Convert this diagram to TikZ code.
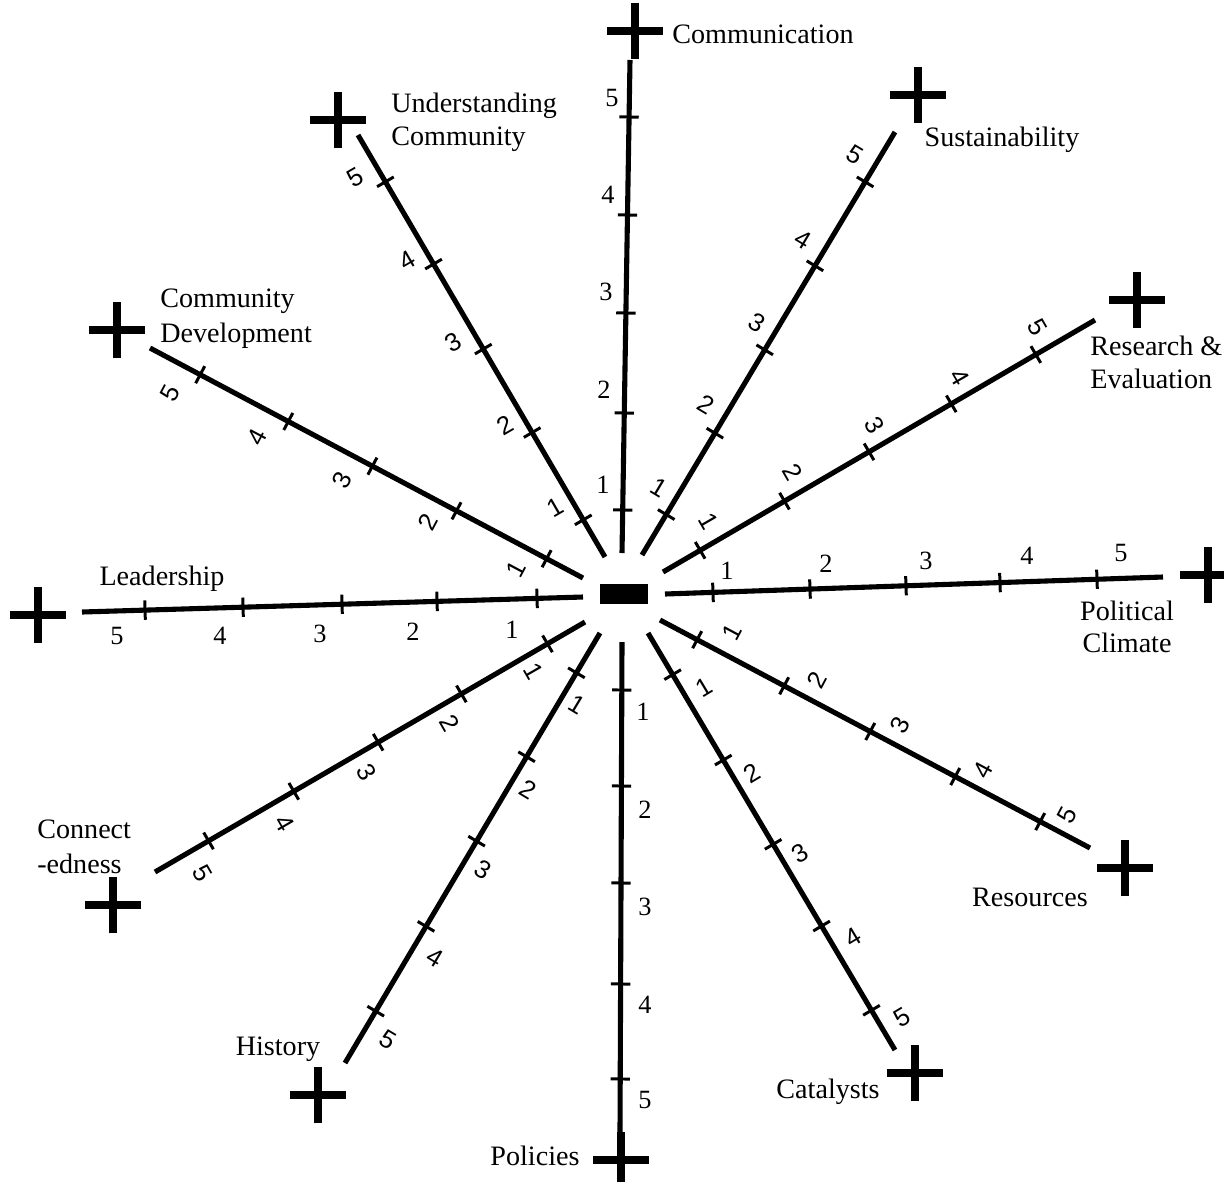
\documentclass[tikz,border=0pt]{standalone}
\usepackage{fontspec}
\setmainfont{Liberation Serif}
\newfontfamily\handfont{Liberation Sans}
\usetikzlibrary{calc,shapes.misc}
\newcommand\mkspoke[4]{%
  \coordinate (#1a) at (#2);
  \coordinate (#1b) at (#3);
  \draw[spoke] (#1a) -- (#1b);
  \foreach \tx/\ty [count=\k] in {#4} {
    \coordinate (#1t\k) at ($(#1a)!(\tx,\ty)!(#1b)$);
    \draw[tickmark] ($(#1t\k)!5.5pt!90:(#1b)$) -- ($(#1t\k)!5.5pt!-90:(#1b)$);
  }}
\newcommand\mkdigits[4]{%
  \foreach \dx/\dy [count=\k] in {#4}
    \node[#2, rotate=#3] (#1d\k) at (\dx,\dy) {\k};}
\begin{document}
\begin{tikzpicture}[x=0.02cm,y=-0.02cm,
  spoke/.style={line width=2.9pt},
  tickmark/.style={line width=1.7pt},
  plusmark/.style={draw, cross out, rotate=45, minimum size=0.63cm, inner sep=0pt, line width=4.8pt},
  lbl/.style={font=\fontsize{16}{19}\selectfont, inner sep=0pt},
  tdig/.style={font=\fontsize{15}{18}\selectfont, inner sep=0pt},
  hdig/.style={font=\handfont\fontsize{14.5}{17}\selectfont, inner sep=0pt},
]
\useasboundingbox (0,0) rectangle (1224,1181);
\fill[white] (0,0) rectangle (1224,1181);

% centre
\node[fill=black, minimum width=0.96cm, minimum height=0.4cm, inner sep=0pt] (c) at (624,594) {};

% spokes with ticks
\mkspoke{com}{622,553}{630,60}{622/510,624/413,626/313,628/215,629/117}
\mkspoke{sus}{642,555}{895,132}{667/515,713/432,765/350,817/267,867/183}
\mkspoke{res}{663,572}{1095,320}{700/550,785/502,868/450,952/405,1035/353}
\mkspoke{pol}{665,594}{1163,577}{713/593,810/589,906/586,1000/583,1097/579}
\mkspoke{rsc}{660,620}{1090,848}{697/640,783/688,870/732,955/777,1040/822}
\mkspoke{cat}{648,633}{895,1050}{672/675,720/762,772/845,820/927,872/1010}
\mkspoke{plc}{622,642}{620,1132}{622/690,621/786,621/883,620/984,620/1079}
\mkspoke{his}{600,633}{345,1063}{575/672,527/757,478/842,427/927,377/1012}
\mkspoke{con}{585,622}{155,872}{547/643,462/695,378/742,293/790,208/840}
\mkspoke{lea}{583,597}{82,612}{537/598,437/601,342/604,243/607,145/610}
\mkspoke{cd}{583,578}{150,348}{547/558,458/508,373/465,288/422,200/375}
\mkspoke{uc}{605,557}{358,135}{583/520,533/432,485/348,437/262,385/182}

% scale numbers
\mkdigits{com}{tdig}{0}{603/485,604/390,606/292,608/195,612/98}
\mkdigits{sus}{hdig}{-31}{659/488,706/405,757/323,803/240,855/155}
\mkdigits{res}{hdig}{-60}{709/521,793/472,875/425,960/377,1038/327}
\mkdigits{pol}{tdig}{0}{727/571,826/564,926/561,1027/556,1121/553}
\mkdigits{rsc}{hdig}{62}{732/632,817/680,900/725,983/770,1067/815}
\mkdigits{cat}{hdig}{31}{704/687,752/773,800/853,853/937,902/1017}
\mkdigits{plc}{tdig}{0}{643/712,645/810,645/907,645/1005,645/1100}
\mkdigits{his}{hdig}{-31}{577/705,528/790,483/870,435/958,388/1040}
\mkdigits{con}{hdig}{-60}{534/671,450/723,367/772,285/823,203/873}
\mkdigits{lea}{tdig}{0}{512/630,413/632,320/634,220/636,117/636}
\mkdigits{cd}{hdig}{62}{516/569,428/522,342/480,257/437,170/393}
\mkdigits{uc}{hdig}{30}{555/507,505/425,453/342,407/260,355/177}

% plus marks
\node[plusmark] (pcom) at (635,31) {};
\node[plusmark] (psus) at (918,95) {};
\node[plusmark] (pres) at (1137,300) {};
\node[plusmark] (ppol) at (1208,575) {};
\node[plusmark] (prsc) at (1125,868) {};
\node[plusmark] (pcat) at (915,1073) {};
\node[plusmark] (pplc) at (621,1160) {};
\node[plusmark] (phis) at (318,1095) {};
\node[plusmark] (pcon) at (113,905) {};
\node[plusmark] (plea) at (38,615) {};
\node[plusmark] (pcd) at (117,330) {};
\node[plusmark] (puc) at (338,120) {};

% labels
\node[lbl, anchor=base] (lcom) at (763,43) {Communication};
\node[lbl, anchor=base] (lsus) at (1002,146) {Sustainability};
\node[lbl, anchor=base west] (lres1) at (1090,355) {Research \&};
\node[lbl, anchor=base west] (lres2) at (1090,388) {Evaluation};
\node[lbl, anchor=base] (lpol1) at (1127,620) {Political};
\node[lbl, anchor=base] (lpol2) at (1127,652) {Climate};
\node[lbl, anchor=base] (lrsc) at (1030,906) {Resources};
\node[lbl, anchor=base] (lcat) at (828,1098) {Catalysts};
\node[lbl, anchor=base] (lplc) at (535,1165) {Policies};
\node[lbl, anchor=base] (lhis) at (278,1055) {History};
\node[lbl, anchor=base west] (lcon1) at (37,838) {Connect};
\node[lbl, anchor=base west] (lcon2) at (37,873) {-edness};
\node[lbl, anchor=base] (llea) at (162,585) {Leadership};
\node[lbl, anchor=base west] (lcd1) at (160,307) {Community};
\node[lbl, anchor=base west] (lcd2) at (160,342) {Development};
\node[lbl, anchor=base west] (luc1) at (391,112) {Understanding};
\node[lbl, anchor=base west] (luc2) at (391,145) {Community};
\end{tikzpicture}
\end{document}
